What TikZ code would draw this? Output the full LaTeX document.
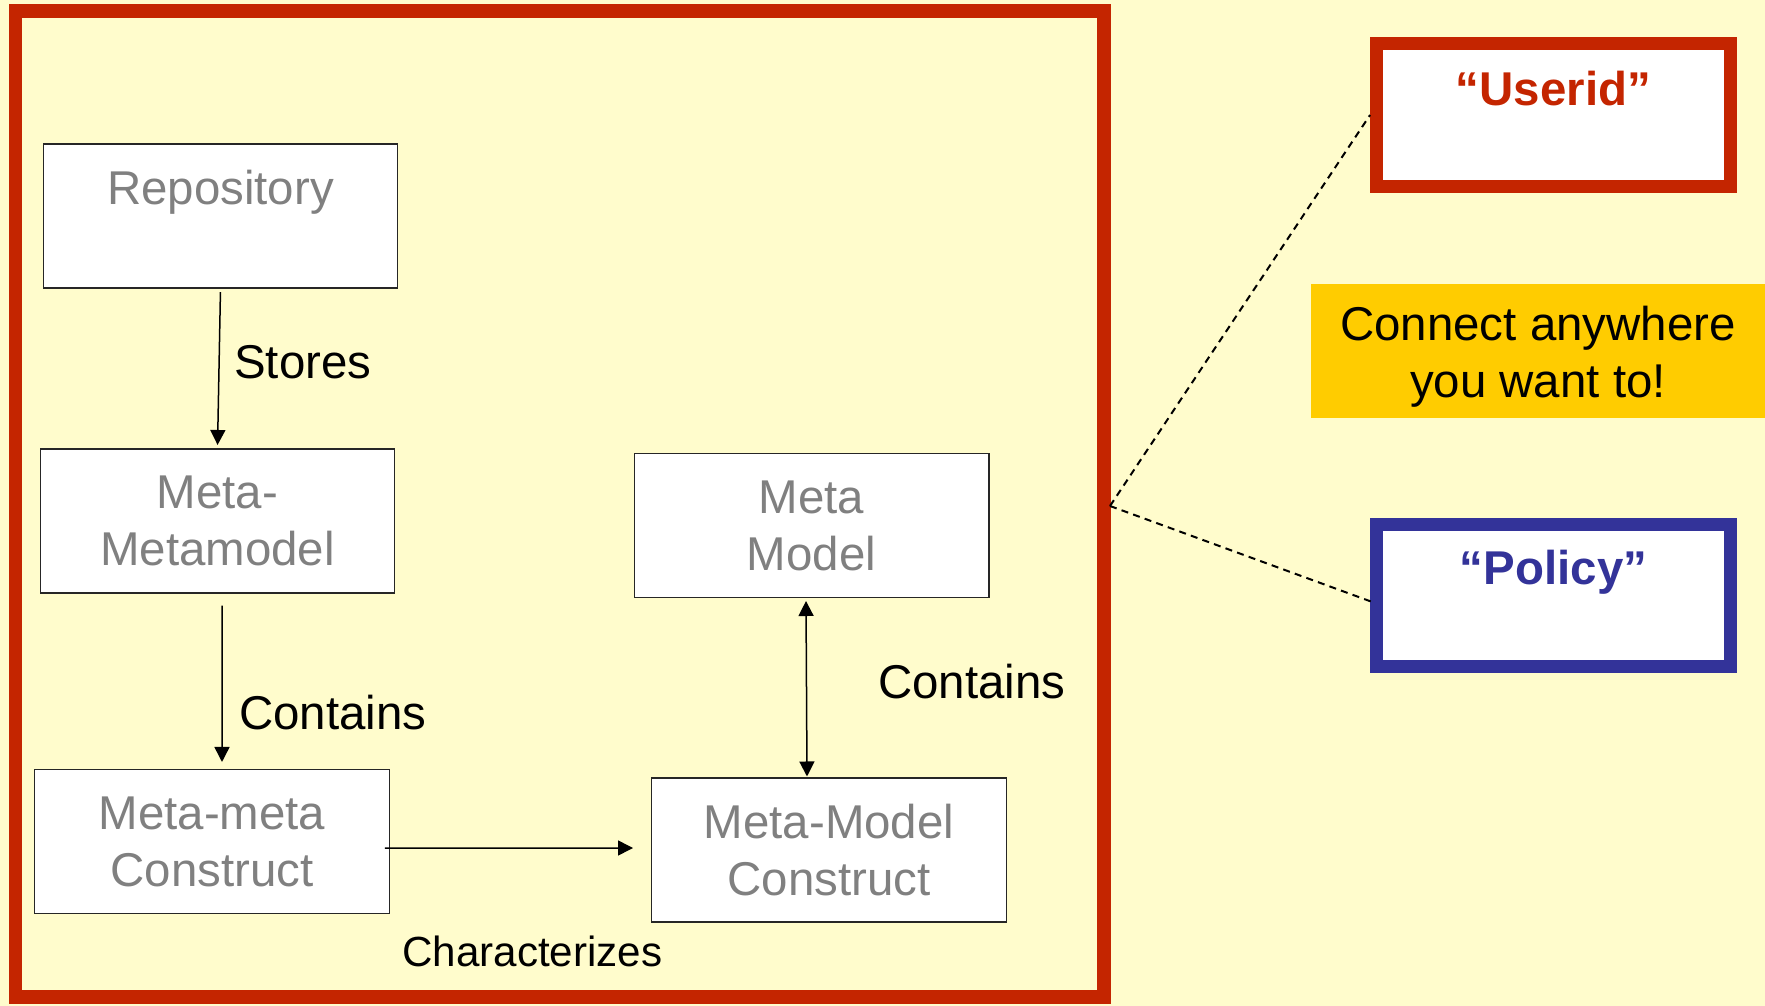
\documentclass[tikz,border=0pt]{standalone}
\usepackage{fontspec}
\setmainfont{Liberation Sans}
\usetikzlibrary{arrows.meta}

\definecolor{slideYellow}{RGB}{255,252,204}
\definecolor{slideRed}{RGB}{196,37,0}
\definecolor{slideBlue}{RGB}{51,51,153}
\definecolor{noteGold}{RGB}{255,204,0}
\definecolor{metaGray}{RGB}{128,128,128}

\begin{document}
\begin{tikzpicture}[
        x=0.02cm, y=-0.02cm,
        >={Triangle[length=0.3cm, width=0.3cm]},
        metaNode/.style={rectangle, draw=black!85, line width=0.6pt, fill=white, text=metaGray,
            minimum width=7.1cm, minimum height=2.88cm, inner sep=0pt, align=center,
            font=\fontsize{27}{32.5}\selectfont},
        tagNode/.style={rectangle, fill=white, line width=0.25cm, minimum width=7.09cm,
            minimum height=2.87cm, inner sep=0pt, align=center,
            font=\fontsize{27}{32.5}\selectfont\bfseries},
        relLabel/.style={anchor=west, font=\fontsize{27}{32.5}\selectfont},
        relArrow/.style={->, line width=0.03cm}
    ]
        % Slide background and frame
        \fill[slideYellow] (0,0) rectangle (1765,1006);
        \useasboundingbox (0,0) rectangle (1765,1006);
        \draw[slideRed, line width=0.28cm] (15.5,11) rectangle (1104,997);

        % Meta levels
        \node[metaNode] (repo) at (220.5,216) {Repository\\\mbox{}};
        \node[metaNode] (metaMeta) at (217.5,521) {Meta-\\Metamodel};
        \node[metaNode] (metaMetaCon) at (212,841.5) {Meta-meta\\Construct};
        \node[metaNode] (metaModel) at (811.5,525.5) {Meta\\Model};
        \node[metaNode] (metaModelCon) at (829,850) {Meta-Model\\Construct};

        % Relations
        \draw[relArrow, shorten <=2pt, shorten >=2pt] (repo.south) -- (metaMeta.north);
        \draw[relArrow] ([xshift=0.09cm, yshift=-0.24cm]metaMeta.south) -- ([xshift=0.2cm, yshift=0.14cm]metaMetaCon.north);
        \draw[relArrow, <->] ([xshift=-0.11cm, yshift=-0.06cm]metaModel.south) -- ([xshift=-0.44cm, yshift=0.02cm]metaModelCon.north);
        \draw[relArrow] ([xshift=-0.1cm, yshift=-0.13cm]metaMetaCon.east) -- ([xshift=-0.36cm, yshift=0.04cm]metaModelCon.west);

        % Relation labels
        \node[relLabel] (storesLbl) at (228,362) {Stores};
        \node[relLabel] (containsLbl) at (233,713) {Contains};
        \node[relLabel] (containsLblB) at (872,682) {Contains};
        \node[relLabel, font=\fontsize{24}{29}\selectfont] (charLbl) at (396,951) {Characterizes};

        % Tags outside the frame
        \node[tagNode, draw=slideRed, text=slideRed] (userid) at (1553.5,115) {\rule{0pt}{0.78cm}``Userid''\\\mbox{}};
        \node[tagNode, draw=slideBlue, text=slideBlue, minimum height=2.85cm] (policy) at (1553.5,595.5) {``Policy''\\\mbox{}};
        \node[fill=noteGold, minimum width=9.08cm, minimum height=2.68cm, inner sep=0pt, align=center,
            font=\fontsize{27}{32.5}\selectfont] (note) at (1538,351) {\rule{0pt}{0.93cm}Connect anywhere\\you want to!};

        % Dashed links
        \coordinate (hook) at (1110,506);
        \draw[dash pattern=on 4pt off 3pt, line width=0.04cm] (hook) -- (userid.west);
        \draw[dash pattern=on 4pt off 3pt, line width=0.04cm] (hook) -- ([xshift=0.1cm, yshift=-0.15cm]policy.west);
    \end{tikzpicture}
\end{document}
